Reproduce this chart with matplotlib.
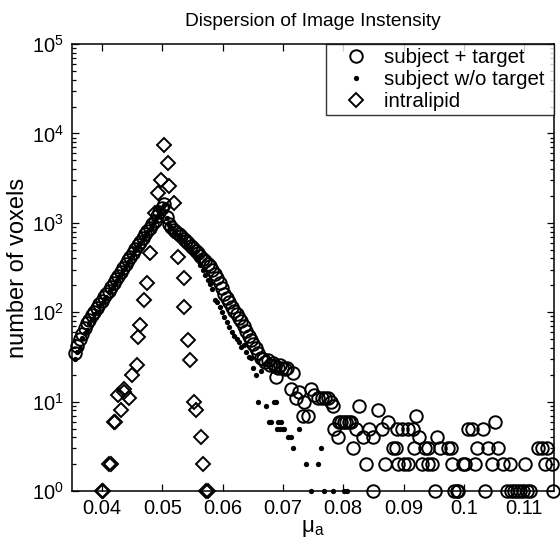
import math
import matplotlib
matplotlib.use("Agg")
import matplotlib.pyplot as plt
from matplotlib.ticker import LogLocator, FixedLocator, NullLocator, FuncFormatter

plt.rcParams['font.family'] = ['Liberation Sans', 'DejaVu Sans']
plt.rcParams['mathtext.fontset'] = 'custom'
plt.rcParams['mathtext.rm'] = 'Liberation Sans'
plt.rcParams['mathtext.it'] = 'Liberation Sans:italic'
plt.rcParams['mathtext.default'] = 'regular'

# subject + target: voxel counts per absorption bin
target_x = [
    0.0355, 0.0359, 0.0363, 0.0367, 0.0371, 0.0375, 0.0379, 0.0383, 0.0387, 0.0391,
    0.0395, 0.0399, 0.0403, 0.0407, 0.0411, 0.0415, 0.0419, 0.0423, 0.0427, 0.0431,
    0.0435, 0.0439, 0.0443, 0.0447, 0.0451, 0.0455, 0.0459, 0.0463, 0.0467, 0.0471,
    0.0475, 0.0479, 0.0483, 0.0487, 0.0491, 0.0495, 0.0499, 0.0503,
    0.0507, 0.0511, 0.0515, 0.0519, 0.0523, 0.0527, 0.0531, 0.0535, 0.0539, 0.0543,
    0.0547, 0.0551, 0.0555, 0.0559, 0.0563, 0.0567, 0.0571, 0.0575, 0.0579, 0.0583,
    0.0587, 0.0591, 0.0595, 0.0599, 0.0603, 0.0607, 0.0611, 0.0615, 0.0619, 0.0623,
    0.0627, 0.0631, 0.0635, 0.0639, 0.0643, 0.0647, 0.0651, 0.0655, 0.0659, 0.0663,
    0.0667, 0.0671, 0.0675, 0.0679, 0.0683, 0.0687, 0.0691, 0.0695, 0.0699, 0.0703,
    0.0707,
    0.0688, 0.0713, 0.0717, 0.0721, 0.0727, 0.0733, 0.0735, 0.0741, 0.0746, 0.0751,
    0.0758, 0.0764, 0.0769, 0.0774, 0.0779, 0.0783, 0.0784, 0.0791, 0.0793, 0.0797,
    0.0801, 0.0805, 0.0809, 0.0813, 0.0817, 0.0821, 0.0826, 0.0832, 0.0837, 0.0842,
    0.0849, 0.0850, 0.0857, 0.0865, 0.0870, 0.0875, 0.0882, 0.0887, 0.0890, 0.0891,
    0.0898, 0.0900, 0.0907, 0.0908, 0.0915, 0.0917, 0.0920, 0.0925, 0.0931, 0.0936,
    0.0940, 0.0941, 0.0948, 0.0953, 0.0956, 0.0961, 0.0974, 0.0978, 0.0981, 0.0983,
    0.0988, 0.0991, 0.0998, 0.1002, 0.1007, 0.1014, 0.1019, 0.1022, 0.1032, 0.1036,
    0.1040, 0.1047, 0.1052, 0.1057, 0.1065, 0.1072, 0.1077, 0.1078, 0.1083, 0.1088,
    0.1093, 0.1098, 0.1102, 0.1105, 0.1110, 0.1123, 0.1129, 0.1135, 0.1138, 0.1146,
    0.1148,
]
target_n = [
    35, 42, 50, 57, 66, 76, 82, 93, 100, 112,
    124, 134, 148, 162, 175, 193, 212, 235, 255, 282,
    310, 345, 382, 420, 466, 512, 566, 612, 680, 742,
    808, 880, 962, 1060, 1180, 1320, 1480, 1610,
    1150, 980, 905, 840, 792, 748, 710, 668, 632, 598,
    552, 520, 488, 462, 430, 396, 372, 348, 328, 298,
    270, 242, 214, 186, 162, 144, 130, 116, 104, 96,
    86, 79, 70, 62, 55, 49, 44, 40, 35, 31,
    30, 28, 29, 26, 27, 25, 24, 26, 24, 23,
    24,
    19, 14, 21, 11, 13, 7, 10, 7, 14, 12,
    11, 11, 11, 11, 10, 9, 5, 4, 6, 6,
    6, 6, 6, 6, 3, 5, 9, 4, 2, 5,
    4, 1, 8, 5, 2, 6, 3, 3, 5, 2,
    5, 2, 2, 5, 5, 3, 7, 4, 2, 3,
    2, 3, 2, 1, 4, 3, 3, 3, 2, 1,
    1, 1, 2, 2, 5, 5, 2, 3, 5, 1,
    3, 2, 6, 3, 2, 1, 2, 1, 1, 1,
    1, 1, 2, 1, 1, 3, 3, 2, 3, 2,
    1,
]

# subject without target
notarget_x = [
    0.0355, 0.0359, 0.0363, 0.0367, 0.0371, 0.0375, 0.0379, 0.0383, 0.0387, 0.0391,
    0.0395, 0.0399, 0.0403, 0.0407, 0.0411, 0.0415, 0.0419, 0.0423, 0.0427, 0.0431,
    0.0435, 0.0439, 0.0443, 0.0447, 0.0451, 0.0455, 0.0459, 0.0463, 0.0467, 0.0471,
    0.0475, 0.0479, 0.0483, 0.0487, 0.0491, 0.0495, 0.0499, 0.0503,
    0.0507, 0.0511, 0.0515, 0.0519, 0.0523, 0.0527, 0.0531, 0.0535, 0.0539, 0.0543,
    0.0547, 0.0551, 0.0555, 0.0559, 0.0563, 0.0567, 0.0571, 0.0575, 0.0579, 0.0583,
    0.0587, 0.0591, 0.0595, 0.0599, 0.0603, 0.0607, 0.0611, 0.0615, 0.0619, 0.0623,
    0.0627, 0.0631, 0.0635, 0.0639, 0.0643, 0.0647, 0.0651, 0.0655, 0.0659, 0.0664,
    0.0672, 0.0677, 0.0680, 0.0685, 0.0688, 0.0690, 0.0692, 0.0695, 0.0697, 0.0700,
    0.0702, 0.0708, 0.0713, 0.0717, 0.0726, 0.0738, 0.0746, 0.0758, 0.0763, 0.0768,
    0.0783, 0.0801, 0.0807,
]
notarget_n = [
    30, 36, 40, 52, 58, 64, 76, 84, 96, 102,
    118, 126, 140, 150, 170, 182, 204, 222, 246, 268,
    300, 330, 366, 404, 450, 496, 548, 596, 660, 724,
    790, 862, 940, 1040, 1160, 1300, 1450, 1580,
    1120, 950, 870, 800, 750, 700, 660, 620, 580, 540,
    500, 460, 420, 380, 340, 300, 260, 230, 205, 180,
    137, 130, 115, 100, 88, 78, 68, 60, 55, 50,
    46, 41, 43, 36, 32, 31, 24, 20, 10, 22,
    9, 6, 6, 10, 10, 5, 6, 5, 6, 5,
    5, 4, 4, 3, 5, 2, 1, 2, 3, 1,
    1, 1, 1,
]

# intralipid phantom
lipid_x = [
    0.0503, 0.0510, 0.0498, 0.0511, 0.0493, 0.0520, 0.0487, 0.0479, 0.0526, 0.0474,
    0.0535, 0.0469, 0.0536, 0.0462, 0.0460, 0.0543, 0.0545, 0.0457, 0.0449, 0.0444,
    0.0437, 0.0436, 0.0427, 0.0432, 0.0419, 0.0421, 0.0553, 0.0556, 0.0564, 0.0568,
    0.0412, 0.0414, 0.0399, 0.0401, 0.0573, 0.0575,
]
lipid_n = [
    7400, 4700, 3000, 2600, 2150, 1650, 1300, 460, 420, 210,
    240, 137, 114, 72, 53, 49, 29, 26, 20, 11,
    14, 13, 12, 8, 6, 6, 10, 8, 4, 2,
    2, 2, 1, 1, 1, 1,
]

x_ticks = [0.04, 0.05, 0.06, 0.07, 0.08, 0.09, 0.10, 0.11]
x_tick_labels = ['0.04', '0.05', '0.06', '0.07', '0.08', '0.09', '0.1', '0.11']

fig = plt.figure(figsize=(5.6, 5.5), dpi=100)
ax = fig.add_axes([0.1286, 0.107, 0.861, 0.813])

ax.semilogy(target_x, target_n, linestyle='none', marker='o', ms=9,
            mfc='none', mec='black', mew=1.4, clip_on=False,
            label='subject + target ')
ax.semilogy(notarget_x, notarget_n, linestyle='none', marker='o', ms=3.8,
            mfc='black', mec='black', mew=0, clip_on=False,
            label='subject w/o target ')
ax.semilogy(lipid_x, lipid_n, linestyle='none', marker='D', ms=7,
            mfc='none', mec='black', mew=1.4, clip_on=False,
            label='intralipid ')

ax.set_xlim(0.035, 0.115)
ax.set_ylim(1, 1e5)

ax.xaxis.set_major_locator(FixedLocator(x_ticks))
ax.set_xticklabels(x_tick_labels)
ax.xaxis.set_minor_locator(NullLocator())
ax.yaxis.set_major_locator(LogLocator(base=10, numticks=10))
ax.yaxis.set_minor_locator(LogLocator(base=10, subs=range(2, 10), numticks=10))
ax.yaxis.set_major_formatter(
    FuncFormatter(lambda v, p: r'$10^{%d}$' % round(math.log10(v))))

ax.tick_params(which='both', direction='in', top=True, right=True,
               labelsize=14.5, width=0.9, pad=6)
ax.tick_params(which='major', length=5)
ax.tick_params(which='minor', length=3)
for s in ax.spines.values():
    s.set_linewidth(1.1)

ax.set_title('Dispersion of Image Instensity', fontsize=13.8, pad=13)
ax.set_xlabel(r'$\mu_a$', fontsize=16, labelpad=0)
ax.set_ylabel('number of voxels', fontsize=17, labelpad=2)

leg = ax.legend(loc='upper right', fontsize=14.8, frameon=True, fancybox=False,
                borderaxespad=0, handletextpad=0.1, borderpad=0.2,
                labelspacing=0.15, handlelength=2.5)
leg.get_frame().set_edgecolor('black')
leg.get_frame().set_linewidth(1.0)

fig.savefig('out.png', dpi=100)
